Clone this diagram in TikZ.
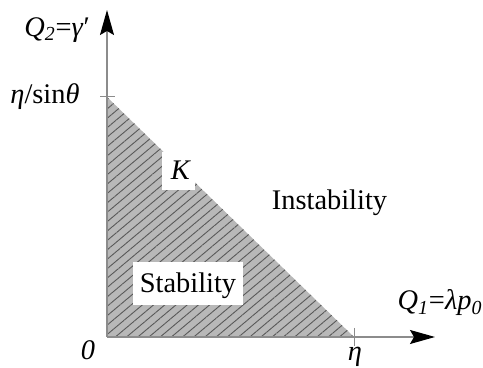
\documentclass[tikz,border=0pt]{standalone}
\usepackage{fontspec}
\setmainfont{LiberationSerif}[Extension=.ttf,UprightFont=*-Regular,ItalicFont=*-Italic,BoldFont=*-Bold,BoldItalicFont=*-BoldItalic]
\usetikzlibrary{arrows.meta,patterns.meta}
\begin{document}
\begin{tikzpicture}[x=0.5pt,y=-0.5pt,
  axis/.style={draw=black!45,line width=0.6pt,-{Stealth[black,length=12.5pt,width=7pt,inset=2pt]}},
  tick/.style={draw=black!45,line width=0.5pt},
  region/.style={fill=black!28},
  hatch/.style={pattern={Lines[angle=40,distance=3.6pt,line width=0.45pt]},pattern color=black!65},
  lbl/.style={inner sep=0pt,font=\fontsize{14.2}{17}\selectfont},
  whitebox/.style={fill=white,draw=none}]
\useasboundingbox (0,0) rectangle (483,368);
\coordinate (O) at (107,337);
\coordinate (A) at (107,97);
\coordinate (E) at (354,337);
\coordinate (ytip) at (107,10);
\coordinate (xtip) at (435,337);
\fill[region] (O) -- (A) -- (E) -- cycle;
\fill[hatch] (O) -- (A) -- (E) -- cycle;
\fill[whitebox] (162,152) rectangle (195,190);
\fill[whitebox] (133,262) rectangle (243,305);
\draw[axis] (O) -- (ytip);
\draw[axis] (O) -- (xtip);
\draw[tick] (100,97) -- (115,97);
\draw[tick] (354,328) -- (354,346);
\node[lbl] (q2) at (57,30) {\textit{Q}\textsubscript{\textit{2}}=\textit{γ}′};
\node[lbl] (etasin) at (45,97) {\textit{η}/sin\textit{θ}};
\node[lbl] (K) at (181,170) {\textit{K}};
\node[lbl,anchor=base] (inst) at (329.5,210) {Instability};
\node[lbl,anchor=base] (stab) at (188,293) {Stability};
\node[lbl] (q1) at (440,303) {\textit{Q}\textsubscript{\textit{1}}=\textit{λp}\textsubscript{\textit{0}}};
\node[lbl] (zero) at (88,350) {\textit{0}};
\node[lbl] (eta) at (355,357) {\textit{η}};
\end{tikzpicture}
\end{document}
